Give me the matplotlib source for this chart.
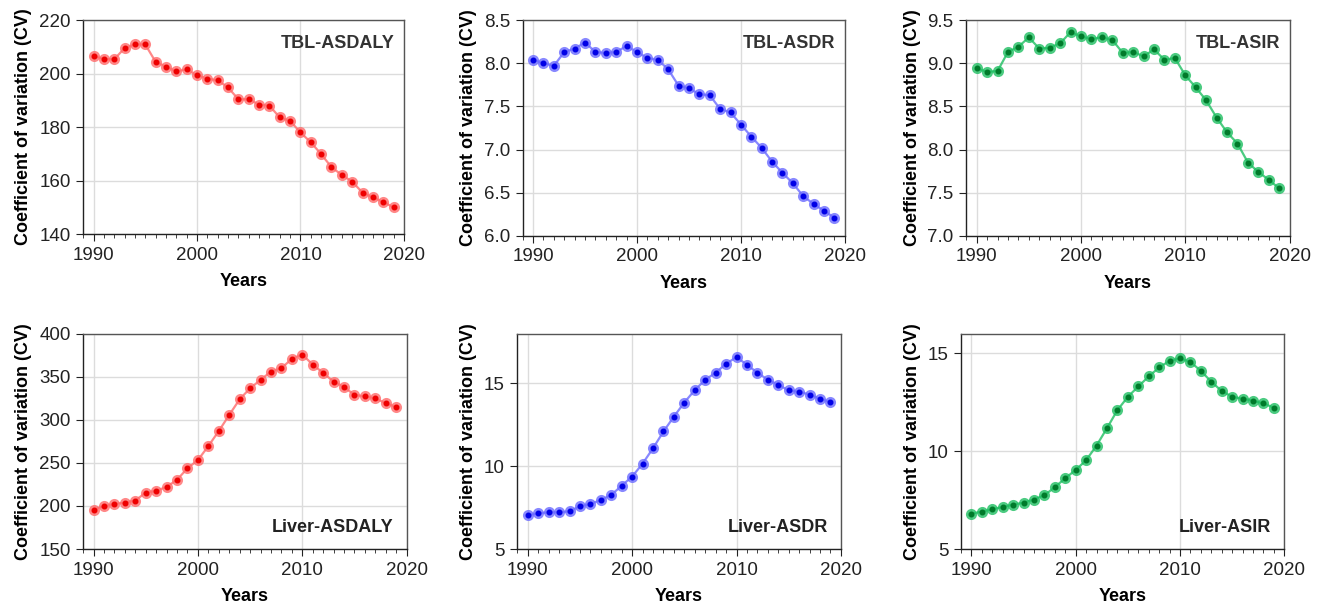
import matplotlib
matplotlib.use('Agg')
import matplotlib.pyplot as plt
from matplotlib.ticker import MultipleLocator, FormatStrFormatter

plt.rcParams['font.family'] = ['Liberation Sans', 'DejaVu Sans']

years = list(range(1990, 2020))

tbl_asdaly = [206.5, 205.5, 205.3, 209.5, 210.9, 210.9, 204.4, 202.6, 200.8, 201.6,
              199.4, 198.1, 197.5, 194.8, 190.4, 190.4, 188.4, 188.0, 183.6, 182.3,
              178.0, 174.3, 169.9, 165.0, 162.1, 159.6, 155.5, 153.7, 152.0, 150.0]
tbl_asdr = [8.04, 8.00, 7.97, 8.13, 8.17, 8.24, 8.13, 8.12, 8.13, 8.20,
            8.13, 8.06, 8.04, 7.93, 7.74, 7.71, 7.64, 7.63, 7.47, 7.43,
            7.29, 7.15, 7.02, 6.86, 6.73, 6.61, 6.46, 6.37, 6.29, 6.21]
tbl_asir = [8.94, 8.90, 8.91, 9.13, 9.19, 9.30, 9.17, 9.18, 9.23, 9.36,
            9.31, 9.28, 9.30, 9.27, 9.12, 9.13, 9.08, 9.16, 9.04, 9.06,
            8.86, 8.72, 8.57, 8.37, 8.20, 8.07, 7.85, 7.74, 7.65, 7.55]
liver_asdaly = [195.8, 199.7, 202.4, 204.0, 206.3, 215.6, 217.5, 222.2, 230.4, 243.9,
                253.3, 269.6, 287.0, 305.7, 323.9, 336.7, 346.4, 356.1, 360.0, 370.9,
                375.9, 364.3, 354.6, 344.5, 338.3, 329.0, 327.4, 325.1, 319.3, 315.0]
liver_asdr = [7.04, 7.16, 7.22, 7.22, 7.28, 7.58, 7.72, 7.96, 8.27, 8.83,
              9.38, 10.16, 11.09, 12.10, 13.00, 13.85, 14.60, 15.22, 15.65, 16.19,
              16.59, 16.13, 15.65, 15.22, 14.92, 14.58, 14.50, 14.33, 14.07, 13.87]
liver_asir = [6.81, 6.91, 7.03, 7.15, 7.27, 7.37, 7.53, 7.75, 8.16, 8.62,
              9.04, 9.54, 10.29, 11.18, 12.10, 12.78, 13.31, 13.82, 14.28, 14.62,
              14.74, 14.56, 14.10, 13.55, 13.07, 12.78, 12.68, 12.58, 12.44, 12.22]

# (data, label, light colour, dark colour, ylim, ytick step, label pos, axes rect)
panels = [
    (tbl_asdaly, 'TBL-ASDALY', '#ff6b6b', '#ee0000', (140, 220), 20, 'top', [0.063, 0.615, 0.243, 0.352]),
    (tbl_asdr, 'TBL-ASDR', '#6b6bff', '#0000e6', (6.0, 8.5), 0.5, 'top', [0.396, 0.612, 0.244, 0.355]),
    (tbl_asir, 'TBL-ASIR', '#1fbf62', '#007a2a', (7.0, 9.5), 0.5, 'top', [0.732, 0.612, 0.245, 0.355]),
    (liver_asdaly, 'Liver-ASDALY', '#ff6b6b', '#ee0000', (150, 400), 50, 'bottom', [0.063, 0.097, 0.245, 0.354]),
    (liver_asdr, 'Liver-ASDR', '#6b6bff', '#0000e6', (5, 18), 5, 'bottom', [0.392, 0.097, 0.245, 0.354]),
    (liver_asir, 'Liver-ASIR', '#1fbf62', '#007a2a', (5, 16), 5, 'bottom', [0.728, 0.097, 0.245, 0.354]),
]

fig = plt.figure(figsize=(13.2, 6.08), dpi=100)

for data, name, light, dark, ylim, step, pos, rect in panels:
    ax = fig.add_axes(rect)
    ax.plot(years, data, color=light, lw=1.6, marker='o', ms=8,
            markerfacecolor=light, markeredgecolor='none', alpha=0.8, zorder=3)
    ax.plot(years, data, ls='none', marker='o', ms=3.3, color=dark, zorder=4)
    ax.set_xlim(1989, 2020)
    ax.set_ylim(*ylim)
    ax.xaxis.set_major_locator(MultipleLocator(10))
    ax.xaxis.set_minor_locator(MultipleLocator(1))
    ax.yaxis.set_major_locator(MultipleLocator(step))
    if step == 0.5:
        ax.yaxis.set_major_formatter(FormatStrFormatter('%.1f'))
    ax.grid(True, which='major', color='#dcdcdc', lw=1.0, zorder=0)
    ax.set_axisbelow(True)
    for s in ax.spines.values():
        s.set_color('#555555')
        s.set_linewidth(1.0)
    ax.spines['left'].set_color('#222222')
    ax.spines['bottom'].set_color('#222222')
    ax.tick_params(axis='both', which='major', labelsize=13.5, length=5, pad=4,
                   color='#222222', labelcolor='#222222')
    ax.tick_params(axis='x', which='minor', length=3, color='#222222')
    ax.set_xlabel('Years', fontsize=13, fontweight='bold', labelpad=7)
    ax.set_ylabel('Coefficient of variation (CV)', fontsize=13, fontweight='bold', labelpad=5)
    if pos == 'top':
        ax.text(0.97, 0.89, name, transform=ax.transAxes, ha='right', va='center',
                fontsize=13, fontweight='bold', color='#333333')
    else:
        ax.text(0.96, 0.10, name, transform=ax.transAxes, ha='right', va='center',
                fontsize=13, fontweight='bold', color='#222222')

fig.savefig('out.png', dpi=100)
